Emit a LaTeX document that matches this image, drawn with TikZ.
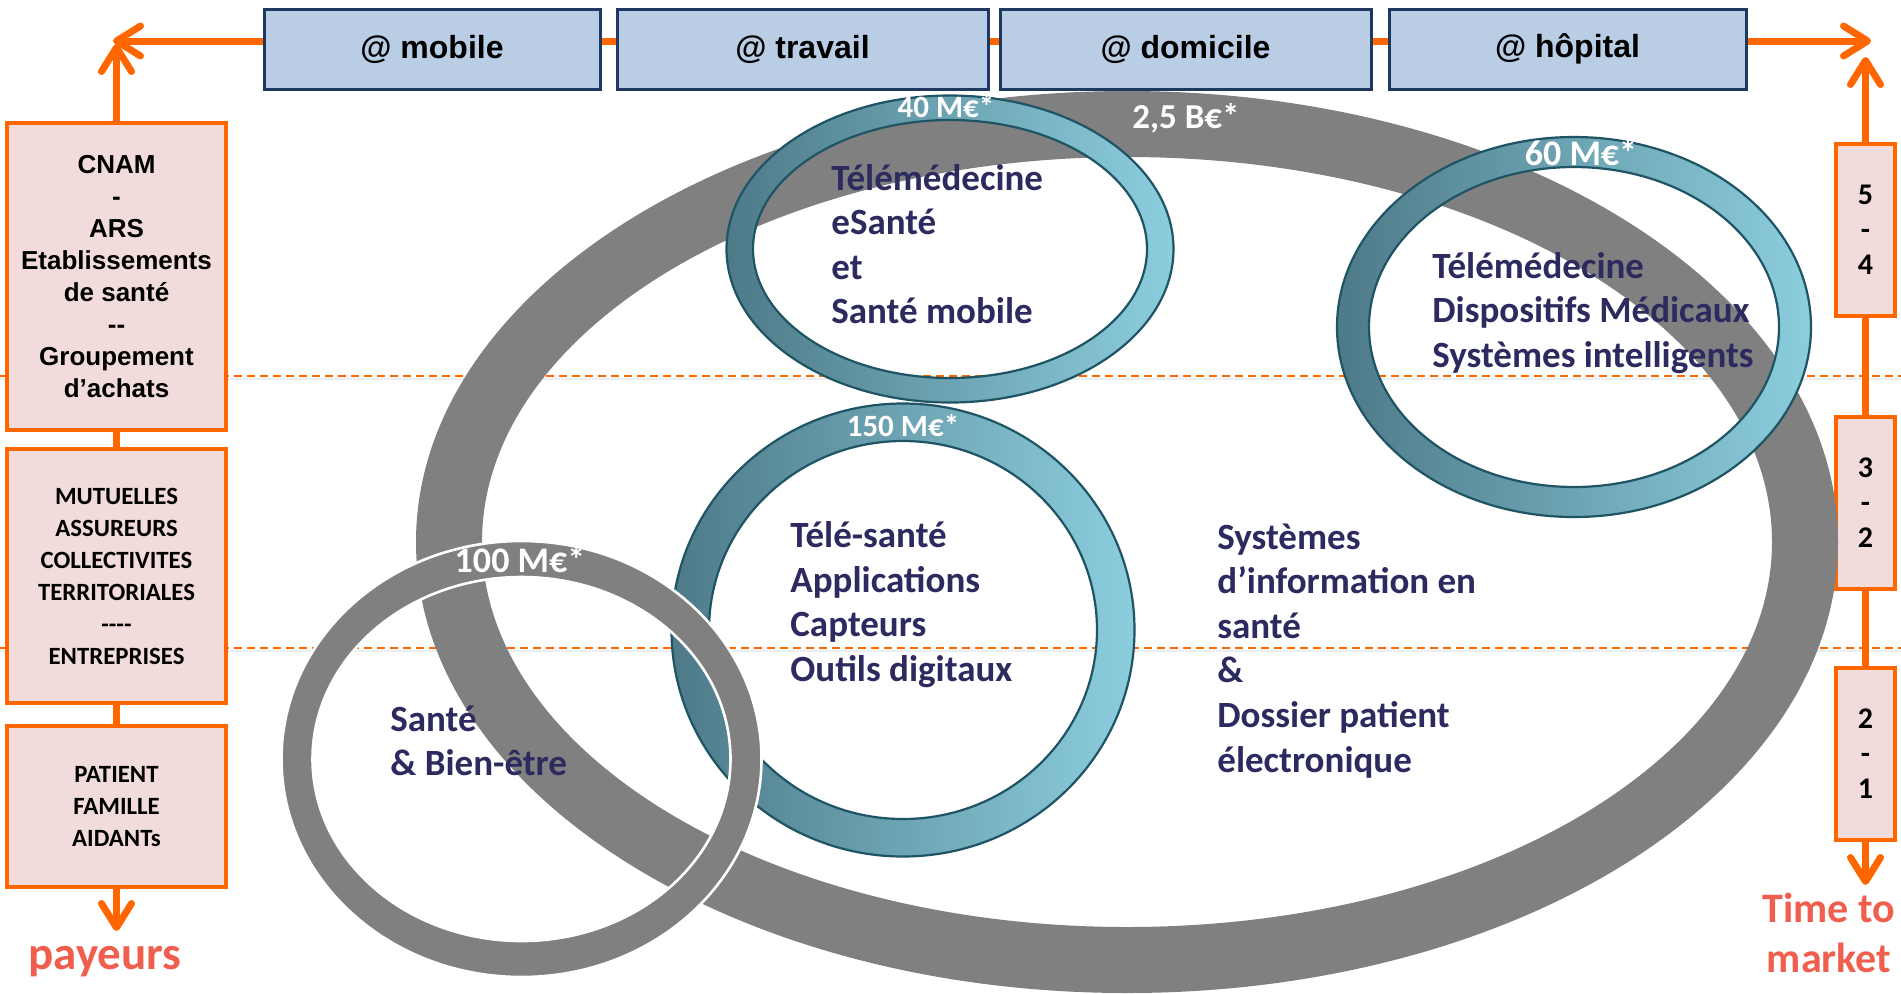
\documentclass[tikz,border=0pt]{standalone}
\usepackage{fontspec}
\setmainfont{Carlito}
\newfontfamily\arialf{Liberation Sans}
\usetikzlibrary{arrows.meta}
\definecolor{orng}{RGB}{255,102,0}
\definecolor{boxblue}{RGB}{185,205,229}
\definecolor{boxnavy}{RGB}{31,56,96}
\definecolor{pinkfill}{RGB}{242,220,219}
\definecolor{ringgray}{RGB}{128,128,128}
\definecolor{tealL}{RGB}{78,122,136}
\definecolor{tealR}{RGB}{140,206,222}
\definecolor{tealO}{RGB}{30,84,100}
\definecolor{navytxt}{RGB}{44,42,94}
\definecolor{salmon}{RGB}{240,95,78}
\newcommand\lineset[1]{\begin{tabular}[t]{@{}l@{}}#1\end{tabular}}
\newcommand\tealring[6]{%
  \shade[even odd rule, left color=tealL, right color=tealR]
    (#1,#2) ellipse[x radius=#3, y radius=#4] (#1,#2) ellipse[x radius=#5, y radius=#6];
  \draw[tealO, line width=1.1pt]
    (#1,#2) ellipse[x radius=#3, y radius=#4] (#1,#2) ellipse[x radius=#5, y radius=#6];}
\tikzset{
  topbox/.style={draw=boxnavy, line width=1.5pt, fill=boxblue, minimum height=40pt, inner sep=0pt,
    font=\arialf\bfseries\fontsize{16}{19}\selectfont},
  paybox/.style={draw=orng, line width=2pt, fill=pinkfill, minimum width=109.5pt, inner sep=0pt, align=center},
  ttmbox/.style={draw=orng, line width=2pt, fill=pinkfill, minimum width=29.5pt, minimum height=86pt,
    inner sep=0pt, align=center, font=\bfseries\fontsize{15}{17.5}\selectfont},
  oline/.style={draw=orng, line width=3.5pt},
  otip/.style={-{Straight Barb[length=12pt,width=15pt,round]}},
  ringtxt/.style={anchor=base west, inner sep=0pt, text=navytxt, font=\bfseries\fontsize{18.5}{22.3}\selectfont},
  ringlbl/.style={anchor=base, inner sep=0pt, text=white},
  dashline/.style={draw=orng, line width=0.8pt, dash pattern=on 4pt off 2.5pt},
  dashshadow/.style={draw=black!7, line width=1.4pt},
}
\begin{document}
\begin{tikzpicture}[x=0.5pt,y=-0.5pt]
\useasboundingbox (0,0) rectangle (1901,993);
\fill[white] (0,0) rectangle (1901,993);

% dashed guide lines
\draw[dashshadow] (0,379) -- (1901,379);
\draw[dashline] (0,376) -- (1901,376);
\draw[dashshadow] (0,651) -- (1901,651);
\draw[dashline] (0,648) -- (1901,648);

% top boxes
\node[topbox, minimum width=168pt] (mobile) at (432,49) {@ mobile};
\node[topbox, minimum width=185.5pt] (travail) at (802.5,49) {@ travail};
\node[topbox, minimum width=185.5pt] (domicile) at (1185.5,49) {@ domicile};
\node[topbox, minimum width=178.5pt] (hopital) at (1567.5,49) {@ hôpital};

% left boxes
\node[paybox, minimum height=153.5pt, font=\arialf\bfseries\fontsize{13}{16}\selectfont] (cnam) at (116.5,276.5)
  {CNAM\\-\\ARS\\Etablissements\\de santé\\-{}-\\Groupement\\d’achats};
\node[paybox, minimum height=127pt, font=\bfseries\fontsize{12.4}{16}\selectfont] (mut) at (116.5,576)
  {MUTUELLES\\ASSUREURS\\COLLECTIVITES\\TERRITORIALES\\-{}-{}-{}-\\ENTREPRISES};
\node[paybox, minimum height=80.5pt, font=\bfseries\fontsize{12.4}{16}\selectfont] (pat) at (116.5,806.5)
  {PATIENT\\FAMILLE\\AIDANTs};

% right boxes
\node[ttmbox] (r54) at (1865.5,230) {5\\-\\4};
\node[ttmbox] (r32) at (1865.5,503) {3\\-\\2};
\node[ttmbox] (r21) at (1865.5,754) {2\\-\\1};

% connectors
\coordinate (tl) at (113,41);
\coordinate (tr) at (1871,41);
\coordinate (tlv) at (116.5,44);
\coordinate (trv) at (1865.5,57);
\coordinate (bl) at (116.5,931);
\coordinate (br) at (1865.5,885);
\draw[oline, otip] (mobile.west |- tl) -- (tl);
\draw[oline] (mobile.east |- tl) -- (travail.west |- tl);
\draw[oline] (travail.east |- tl) -- (domicile.west |- tl);
\draw[oline] (domicile.east |- tl) -- (hopital.west |- tl);
\draw[oline, otip] (hopital.east |- tr) -- (tr);
\draw[oline, otip] (cnam.north) -- (tlv);
\draw[oline] (cnam.south) -- (mut.north);
\draw[oline] (mut.south) -- (pat.north);
\draw[oline, otip] (pat.south) -- (bl);
\draw[oline, otip] (r54.north) -- (trv);
\draw[oline] (r54.south) -- (r32.north);
\draw[oline] (r32.south) -- (r21.north);
\draw[oline, otip] (r21.south) -- (br);

% big gray ring
\fill[ringgray, even odd rule] (1127,542) ellipse[x radius=711, y radius=451]
  (1127,542) ellipse[x radius=645, y radius=385];

% teal rings
\tealring{950}{249}{223.5}{153.5}{197}{129}
\tealring{1574}{327}{237}{190}{205}{160}
\tealring{903}{630}{231.5}{226.5}{194}{189}

% small gray ring
\fill[ringgray, even odd rule] (521.5,759) ellipse[x radius=240, y radius=218]
  (521.5,759) ellipse[x radius=209, y radius=182];
\draw[white, line width=1.3pt] (521.5,759) ellipse[x radius=240, y radius=218]
  (521.5,759) ellipse[x radius=209, y radius=182];

% ring labels
\node[ringlbl, font=\bfseries\fontsize{15.5}{18}\selectfont] (l40) at (946,117) {40 M€*};
\node[ringlbl, font=\bfseries\fontsize{17.5}{20}\selectfont] (l25) at (1186,128) {2,5 B€*};
\node[ringlbl, font=\bfseries\fontsize{18}{21}\selectfont] (l60) at (1581,165) {60 M€*};
\node[ringlbl, font=\bfseries\fontsize{15.5}{18}\selectfont] (l150) at (903,436) {150 M€*};
\node[ringlbl, font=\bfseries\fontsize{18}{21}\selectfont] (l100) at (520,572) {100 M€*};

% ring texts
\node[ringtxt] (t40) at (831,190) {\lineset{Télémédecine\\eSanté\\et\\Santé mobile}};
\node[ringtxt] (t60) at (1432,278) {\lineset{Télémédecine\\Dispositifs Médicaux\\Systèmes intelligents}};
\node[ringtxt] (t150) at (790,547.5) {\lineset{Télé-santé\\Applications\\Capteurs\\Outils digitaux}};
\node[ringtxt] (tsi) at (1217,549) {\lineset{Systèmes\\d’information en\\santé\\\&\\Dossier patient\\électronique}};
\node[ringtxt] (tsb) at (390,731) {\lineset{Santé\\\& Bien-être}};

% axis labels
\node[anchor=base, inner sep=0pt, text=salmon, font=\bfseries\fontsize{23.5}{28}\selectfont] (payeurs) at (105,969) {payeurs};
\node[anchor=base, inner sep=0pt, text=salmon, font=\bfseries\fontsize{21}{25}\selectfont] (ttm) at (1829,922)
  {\begin{tabular}[t]{@{}c@{}}Time to\\market\end{tabular}};
\end{tikzpicture}
\end{document}
